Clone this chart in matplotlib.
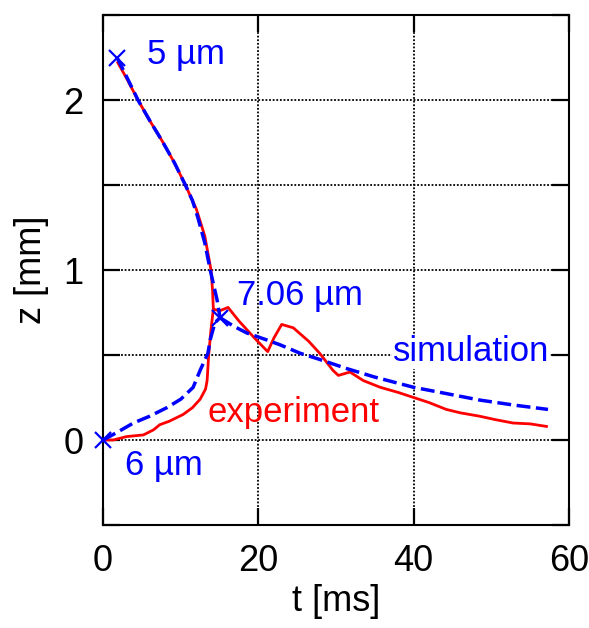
"""
    液滴高度随时间变化：实验与模拟对比
"""

import matplotlib
matplotlib.use("Agg")
import matplotlib.pyplot as plt
from matplotlib import rcParams

rcParams['font.family'] = ['Liberation Sans', 'DejaVu Sans']

# 模拟：上方液滴（5 µm）下落段
sim_upper_t = [1.8, 3.0, 4.5, 6.0, 7.6, 9.2, 10.6, 11.5, 12.2, 13.1, 13.8, 14.3, 14.7, 15.06]
sim_upper_z = [2.25, 2.14, 2.0, 1.88, 1.76, 1.63, 1.5, 1.41, 1.31, 1.16, 1.0, 0.9, 0.82, 0.72]
# 模拟：下方液滴（6 µm）上升段
sim_lower_t = [0.0, 2.0, 3.9, 6.0, 8.2, 10.0, 11.6, 12.5, 13.5, 13.8, 14.4, 15.06]
sim_lower_z = [0.0, 0.05, 0.1, 0.14, 0.19, 0.24, 0.31, 0.41, 0.51, 0.59, 0.69, 0.72]
# 模拟：合并后（7.06 µm）
sim_merged_t = [15.06, 16.8, 18.5, 21.0, 22.8, 25.4, 27.5, 31.4, 35.0, 40.0, 44.0, 48.5, 53.0, 57.3]
sim_merged_z = [0.72, 0.67, 0.63, 0.59, 0.56, 0.51, 0.48, 0.42, 0.37, 0.31, 0.275, 0.235, 0.205, 0.18]

# 实验数据
exp_upper_t = [1.9, 3.0, 4.5, 6.0, 7.6, 9.2, 10.6, 12.0, 13.1, 13.5, 13.9, 14.1, 14.2]
exp_upper_z = [2.22, 2.13, 2.0, 1.88, 1.76, 1.63, 1.5, 1.36, 1.2, 1.1, 1.0, 0.88, 0.77]
exp_lower_t = [0.0, 1.3, 3.0, 5.2, 6.5, 7.3, 8.5, 10.3, 11.5, 12.5, 13.2, 13.4, 13.6, 13.9, 14.2]
exp_lower_z = [0.0, 0.0, 0.02, 0.03, 0.06, 0.09, 0.11, 0.15, 0.19, 0.24, 0.3, 0.35, 0.5, 0.65, 0.77]
exp_merged_t = [14.2, 15.0, 16.1, 17.5, 19.5, 21.2, 22.0, 23.0, 24.5, 26.5, 27.9, 29.6, 30.3,
                31.8, 33.5, 35.7, 38.0, 40.0, 42.0, 44.2, 46.0, 48.5, 50.5, 52.8, 55.0, 57.1]
exp_merged_z = [0.77, 0.76, 0.78, 0.70, 0.60, 0.52, 0.60, 0.68, 0.66, 0.58, 0.51, 0.41, 0.38,
                0.40, 0.35, 0.31, 0.28, 0.25, 0.22, 0.18, 0.16, 0.14, 0.12, 0.10, 0.095, 0.08]

# 液滴标记点及其直径
drop_t = [1.8, 15.06, 0.0]
drop_z = [2.25, 0.72, 0.0]
drop_labels = ["5 µm", "7.06 µm", "6 µm"]
label_t = [5.7, 17.2, 2.8]
label_z = [2.27, 0.85, -0.15]


def draw_chart():
    fig = plt.figure(figsize=(5.89, 6.28), dpi=100)
    ax = fig.add_axes([0.175, 0.164, 0.791, 0.812])

    red = '#ff0000'
    blue = '#0000ff'
    for t, z in [(exp_upper_t, exp_upper_z), (exp_lower_t, exp_lower_z), (exp_merged_t, exp_merged_z)]:
        ax.plot(t, z, color=red, lw=2.0, zorder=3)
    for t, z in [(sim_upper_t, sim_upper_z), (sim_lower_t, sim_lower_z), (sim_merged_t, sim_merged_z)]:
        ax.plot(t, z, color=blue, lw=2.5, dashes=(4.0, 1.6), zorder=4)

    ax.plot(drop_t, drop_z, 'x', color=blue, ms=11, mew=1.6, zorder=5, clip_on=False)
    for s, t, z in zip(drop_labels, label_t, label_z):
        ax.text(t, z, s, color=blue, fontsize=25, va='center', ha='left', zorder=6)

    ax.text(57.5, 0.52, "simulation", color=blue, fontsize=25, va='center', ha='right', zorder=6,
            bbox=dict(facecolor='white', edgecolor='none', pad=0.5))
    ax.text(13.5, 0.16, "experiment", color=red, fontsize=25, va='center', ha='left', zorder=6)

    ax.set_xlim(0, 60)
    ax.set_ylim(-0.5, 2.5)
    ax.set_xticks([0, 20, 40, 60])
    yt = [-0.5, 0, 0.5, 1, 1.5, 2, 2.5]
    ax.set_yticks(yt)
    ax.set_yticklabels(['', '0', '', '1', '', '2', ''])
    ax.tick_params(direction='in', length=12, width=1.6, top=True, right=True, labelsize=26)
    ax.tick_params(axis='x', pad=14)
    ax.tick_params(axis='y', pad=14)

    ax.grid(True, color='black', linestyle=(0, (1, 1)), lw=1.3)
    for sp in ax.spines.values():
        sp.set_linewidth(1.5)

    ax.set_xlabel("t [ms]", fontsize=26, labelpad=3)
    ax.set_ylabel("z [mm]", fontsize=26, labelpad=10)

    fig.savefig("out.png", dpi=100)


draw_chart()
